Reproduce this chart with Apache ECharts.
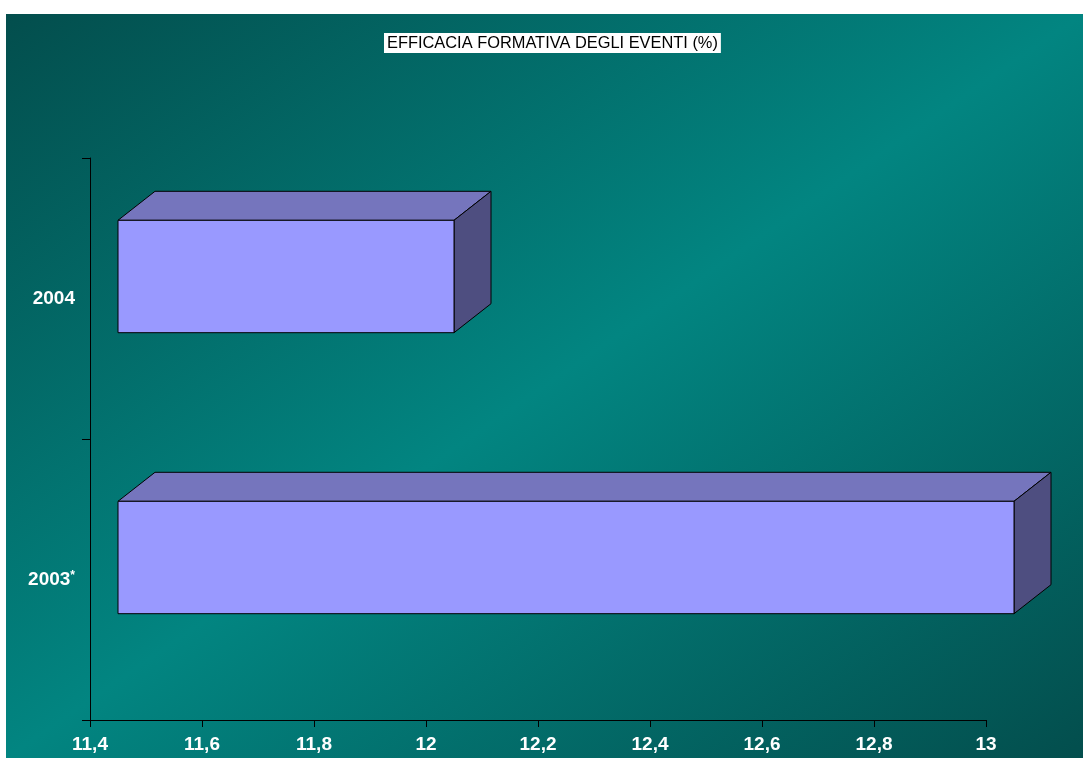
<!DOCTYPE html>
<html>
<head>
<meta charset="utf-8">
<script src="https://cdn.jsdelivr.net/npm/echarts@6/dist/echarts.min.js"></script>
<style>
  html, body { margin: 0; padding: 0; background: #ffffff; }
  #chart { position: absolute; left: 6px; top: 14px; width: 1077px; height: 744px; }
</style>
</head>
<body>
<div id="chart"></div>
<script>
// Categories (bottom to top) and their values in percent
const categories = ['2003*', '2004'];
const values = [13, 12];

// Value-axis range and step
const axisMin = 11.4;
const axisMax = 13;
const axisStep = 0.2;

const chart = echarts.init(document.getElementById('chart'));

// Depth offsets of the 3D boxes (screen pixels)
const FRONT_DX = 28, FRONT_DY = -22;
const DEPTH_DX = 37, DEPTH_DY = -29;

function renderBox(params, api) {
  const v = api.value(0);
  const cat = api.value(1);
  const start = api.coord([axisMin, cat]);
  const end = api.coord([v, cat]);
  const bandH = api.size([0, 1])[1];
  const h = bandH * 0.4;
  const x0 = start[0] + FRONT_DX;
  const x1 = end[0] + FRONT_DX;
  const yc = start[1] + FRONT_DY;
  const yTop = yc - h / 2;
  const yBot = yc + h / 2;
  const stroke = { stroke: '#000000', lineWidth: 1, lineJoin: 'round' };
  return {
    type: 'group',
    children: [
      {
        type: 'polygon',
        shape: { points: [[x0, yTop], [x0 + DEPTH_DX, yTop + DEPTH_DY], [x1 + DEPTH_DX, yTop + DEPTH_DY], [x1, yTop]] },
        style: Object.assign({ fill: '#7575bd' }, stroke)
      },
      {
        type: 'polygon',
        shape: { points: [[x1, yTop], [x1 + DEPTH_DX, yTop + DEPTH_DY], [x1 + DEPTH_DX, yBot + DEPTH_DY], [x1, yBot]] },
        style: Object.assign({ fill: '#4e4e80' }, stroke)
      },
      {
        type: 'rect',
        shape: { x: x0, y: yTop, width: x1 - x0, height: yBot - yTop },
        style: Object.assign({ fill: '#9999ff' }, stroke)
      }
    ]
  };
}

const labelFont = 'Liberation Sans, Arial, sans-serif';

chart.setOption({
  backgroundColor: new echarts.graphic.LinearGradient(0, 0, 696, 1007, [
    { offset: 0, color: '#034e4d' },
    { offset: 0.5, color: '#028581' },
    { offset: 1, color: '#034e4d' }
  ], true),
  title: {
    text: 'EFFICACIA FORMATIVA DEGLI EVENTI (%)',
    left: 378,
    top: 19,
    backgroundColor: '#ffffff',
    padding: [2, 3, 1, 3],
    textStyle: {
      fontFamily: labelFont,
      fontSize: 16.4,
      lineHeight: 17,
      fontWeight: 'normal',
      color: '#000000'
    }
  },
  grid: { left: 84, right: 97, top: 144, bottom: 38 },
  xAxis: {
    type: 'value',
    min: axisMin,
    max: axisMax,
    interval: axisStep,
    axisLine: { show: true, lineStyle: { color: '#000000', width: 1 } },
    axisTick: { show: true, length: 7, lineStyle: { color: '#000000' } },
    splitLine: { show: false },
    axisLabel: {
      margin: 15,
      color: '#ffffff',
      fontFamily: labelFont,
      fontSize: 19,
      fontWeight: 'bold',
      formatter: v => String(Math.round(v * 10) / 10).replace('.', ',')
    }
  },
  yAxis: {
    type: 'category',
    data: categories,
    axisLine: { show: true, lineStyle: { color: '#000000', width: 1 } },
    axisTick: { show: true, length: 8, lineStyle: { color: '#000000' } },
    axisLabel: {
      margin: 15,
      color: '#ffffff',
      fontFamily: labelFont,
      fontSize: 19,
      fontWeight: 'bold',
      formatter: v => v.endsWith('*') ? v.slice(0, -1) + '{s|*}' : v,
      rich: {
        s: { color: '#ffffff', fontFamily: labelFont, fontSize: 12, fontWeight: 'bold', verticalAlign: 'top', padding: [0, 0, 7, 0] }
      }
    }
  },
  series: [{
    type: 'custom',
    renderItem: renderBox,
    clip: false,
    encode: { x: 0, y: 1 },
    data: values.map((v, i) => [v, i])
  }]
});
</script>
</body>
</html>
